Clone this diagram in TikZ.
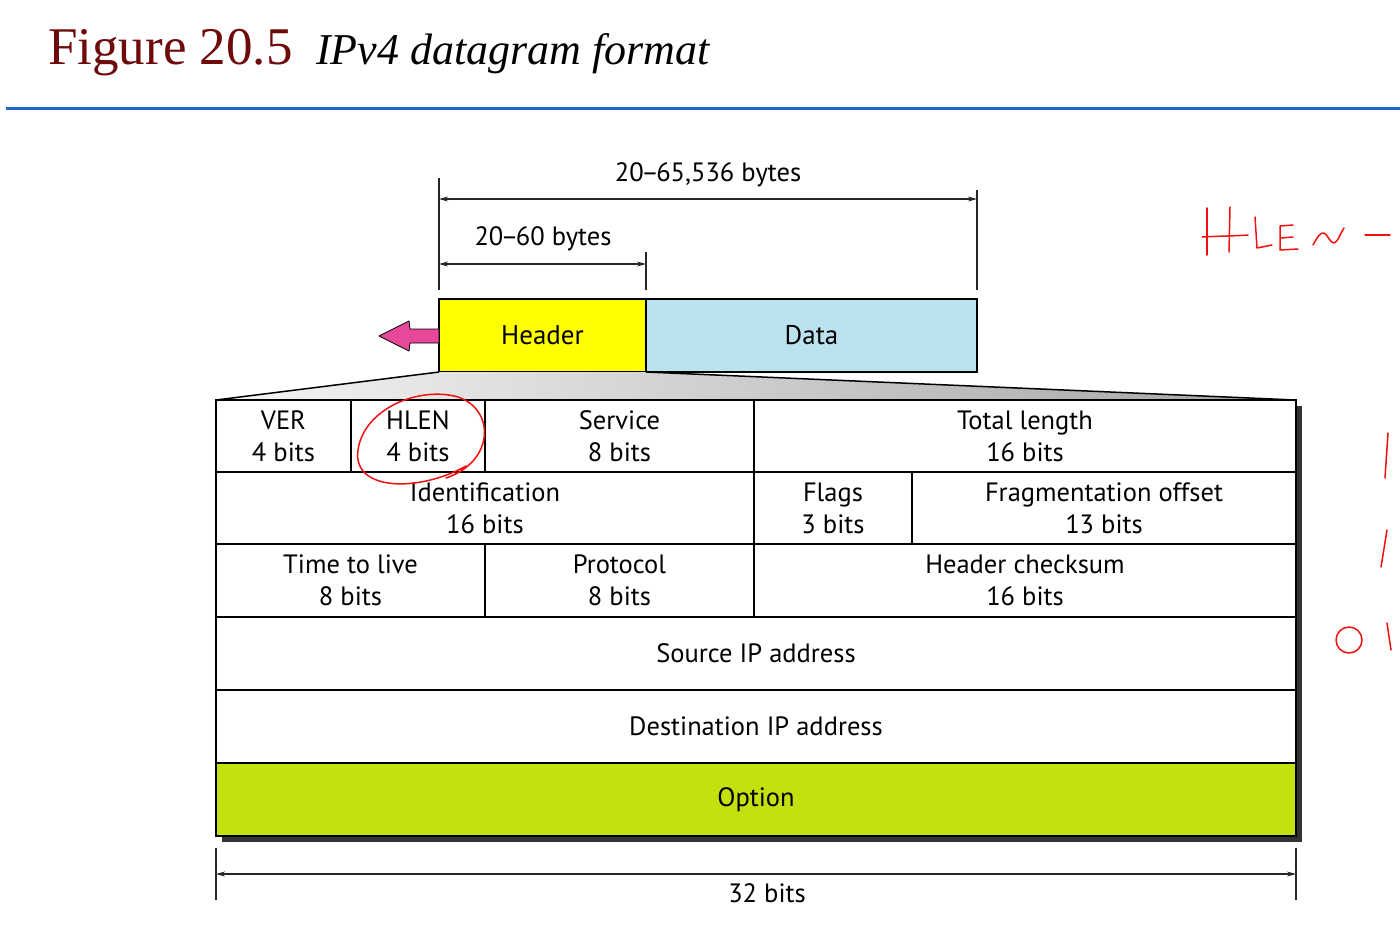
\documentclass[tikz,border=0pt]{standalone}
\usepackage{fontspec}
\setmainfont{Liberation Serif}
\newfontfamily\figsans{PT Sans}
\usetikzlibrary{arrows.meta}
\definecolor{titlered}{HTML}{6E0A0A}
\definecolor{ruleblue}{HTML}{1A66C8}
\definecolor{hdryellow}{HTML}{FFFF00}
\definecolor{datablue}{HTML}{BBE2EF}
\definecolor{optgreen}{HTML}{C2E10F}
\definecolor{arrowpink}{HTML}{E8489A}
\definecolor{inkred}{HTML}{F01010}
\newcommand{\tightdash}{\kern-2.5pt–\kern-2.5pt}
\begin{document}
\begin{tikzpicture}[x=1pt,y=-1pt,
  lbl/.style={font=\figsans\fontsize{26.5}{32}\selectfont, inner sep=0pt, align=center},
  cell/.style={draw, line width=1.6pt, anchor=north west, inner sep=0pt, outer sep=0pt,
     align=center, fill=white, font=\figsans\fontsize{26.5}{32}\selectfont},
  packet/.style={draw, line width=1.5pt, anchor=north west, inner sep=0pt, outer sep=0pt,
     font=\figsans\fontsize{27}{32}\selectfont},
  dimline/.style={line width=1.1pt, draw=black!85, {Stealth[length=9pt,width=5pt]}-{Stealth[length=9pt,width=5pt]}},
  ticker/.style={line width=1.1pt, draw=black!85},
  ink/.style={draw=inkred, line width=1.5pt, line cap=round, line join=round}
]
\useasboundingbox (0,0) rectangle (1400,924);

% title
\node[anchor=base west, inner sep=0pt, text=titlered, font=\fontsize{53}{60}\selectfont] (figno) at (48,64) {Figure 20.5};
\node[anchor=base west, inner sep=0pt, font=\itshape\fontsize{44}{50}\selectfont] (figtitle) at (316,64) {IPv4 datagram format};
\coordinate (ruleL) at (6,108);
\coordinate (ruleR) at (1400,108);
\draw[ruleblue, line width=3pt] (ruleL) -- (ruleR);

% dimension lines on top
\coordinate (t1a) at (439,178); \coordinate (t1b) at (439,290);
\coordinate (t2a) at (977,190); \coordinate (t2b) at (977,290);
\coordinate (t3a) at (646,252); \coordinate (t3b) at (646,290);
\draw[ticker] (t1a) -- (t1b);
\draw[ticker] (t2a) -- (t2b);
\draw[ticker] (t3a) -- (t3b);
\coordinate (d1a) at (439,199); \coordinate (d1b) at (977,199);
\coordinate (d2a) at (439,264); \coordinate (d2b) at (646,264);
\draw[dimline] (d1a) -- (d1b);
\draw[dimline] (d2a) -- (d2b);
\node[lbl] (lbltotal) at (708,175) {20\tightdash65,536 bytes};
\node[lbl] (lblhdr) at (543,239) {20\tightdash60 bytes};

% packet
\node[packet, fill=hdryellow, minimum width=207pt, minimum height=73pt] (header) at (439,299) {Header};
\node[packet, fill=datablue, minimum width=331pt, minimum height=73pt] (data) at (646,299) {Data};

% pink arrow
\fill[arrowpink, draw=black, line width=0.8pt, line join=round]
  (439,329) -- (410,329) -- (409,321) -- (379,336) -- (409,351) -- (410,343) -- (439,343) -- cycle;

% expansion wedge
\shade[left color=gray!8, right color=gray!72] (439,372) -- (646,372) -- (1296,400) -- (216,400) -- cycle;
\draw[line width=1.5pt] (439,372) -- (216,400);
\draw[line width=1.5pt] (646,372) -- (1296,400);

% shadow
\fill[black!80] (222,406) rectangle (1302,842);

% table
\node[cell, minimum width=135pt, minimum height=72pt] (ver) at (216,400) {VER\\4 bits};
\node[cell, minimum width=134pt, minimum height=72pt] (hlen) at (351,400) {HLEN\\4 bits};
\node[cell, minimum width=269pt, minimum height=72pt] (service) at (485,400) {Service\\8 bits};
\node[cell, minimum width=542pt, minimum height=72pt] (total) at (754,400) {Total length\\16 bits};
\node[cell, minimum width=538pt, minimum height=72pt] (ident) at (216,472) {Identification\\16 bits};
\node[cell, minimum width=158pt, minimum height=72pt] (flags) at (754,472) {Flags\\3 bits};
\node[cell, minimum width=384pt, minimum height=72pt] (frag) at (912,472) {Fragmentation offset\\13 bits};
\node[cell, minimum width=269pt, minimum height=73pt] (ttl) at (216,544) {Time to live\\8 bits};
\node[cell, minimum width=269pt, minimum height=73pt] (proto) at (485,544) {Protocol\\8 bits};
\node[cell, minimum width=542pt, minimum height=73pt] (csum) at (754,544) {Header checksum\\16 bits};
\node[cell, minimum width=1080pt, minimum height=73pt] (src) at (216,617) {Source IP address};
\node[cell, minimum width=1080pt, minimum height=73pt] (dst) at (216,690) {Destination IP address};
\node[cell, fill=optgreen, minimum width=1080pt, minimum height=73pt] (opt) at (216,763) {Option};

% bottom dimension
\coordinate (b1a) at (216,848); \coordinate (b1b) at (216,900);
\coordinate (b2a) at (1296,848); \coordinate (b2b) at (1296,900);
\draw[ticker] (b1a) -- (b1b);
\draw[ticker] (b2a) -- (b2b);
\coordinate (bda) at (216,874); \coordinate (bdb) at (1296,874);
\draw[dimline] (bda) -- (bdb);
\node[lbl] (lblbits) at (767,893) {32 bits};

% handwritten annotations
\draw[ink] (466,466) .. controls (420,492) and (352,492) .. (358,450)
           .. controls (364,408) and (420,386) .. (458,397)
           .. controls (496,410) and (494,462) .. (446,478);
% HLEN -
\draw[ink] (1207,208) -- (1207,255);
\draw[ink] (1230,207) -- (1229,252);
\draw[ink] (1202,237) .. controls (1220,236) and (1235,236) .. (1248,235);
\draw[ink] (1255,217) -- (1257,248) -- (1272,245);
\draw[ink] (1293,225) -- (1280,226) -- (1280,250) -- (1298,249);
\draw[ink] (1281,238) -- (1293,237);
\draw[ink] (1313,245) .. controls (1317,238) and (1320,232) .. (1324,233)
           .. controls (1328,235) and (1330,243) .. (1334,243)
           .. controls (1338,242) and (1340,234) .. (1344,228);
\draw[ink] (1365,235) -- (1390,235);
% right marks
\draw[ink] (1388,433) -- (1385,478);
\draw[ink] (1387,530) -- (1381,567);
\draw[ink] (1349,640) ellipse (13pt and 13pt);
\draw[ink] (1387,623) -- (1391,650);
\end{tikzpicture}
\end{document}
